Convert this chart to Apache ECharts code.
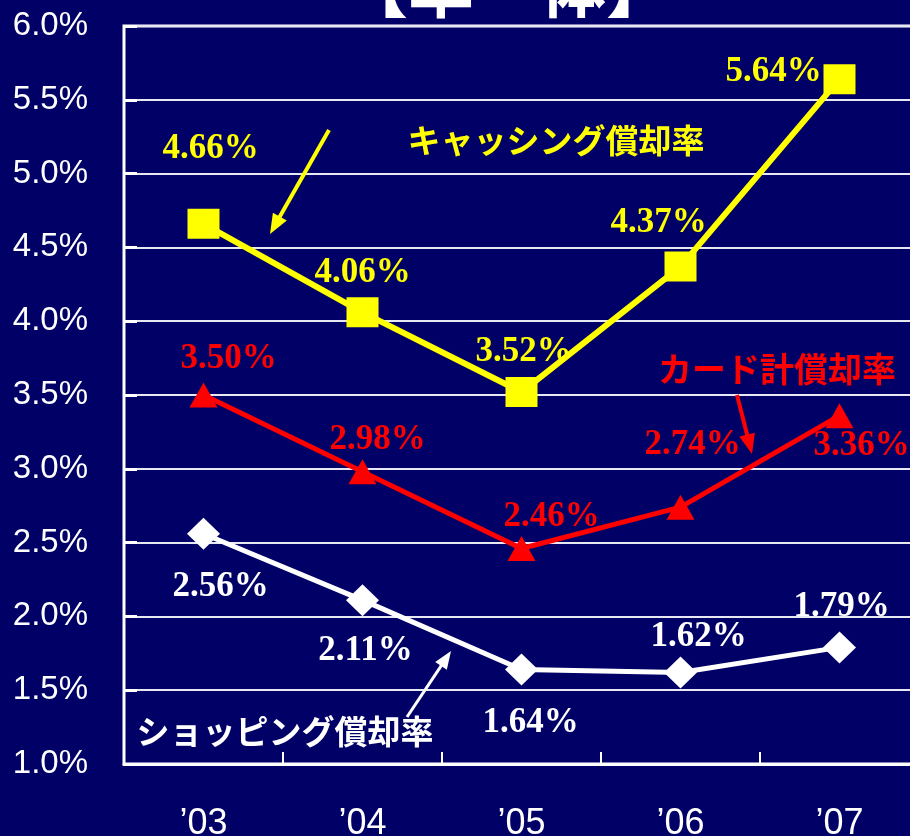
<!DOCTYPE html>
<html>
<head>
<meta charset="utf-8">
<script src="https://cdn.jsdelivr.net/npm/echarts@6/dist/echarts.min.js"></script>
<style>
  html, body { margin: 0; padding: 0; background: #000066; }
  #chart { width: 910px; height: 836px; }
</style>
</head>
<body>
<div id="chart"></div>
<script>
// Years on the horizontal axis
const categories = ['\u201903', '\u201904', '\u201905', '\u201906', '\u201907'];
// Write-off rates (%)
const cashingRate = [4.66, 4.06, 3.52, 4.37, 5.64];
const cardTotalRate = [3.50, 2.98, 2.46, 2.74, 3.36];
const shoppingRate = [2.56, 2.11, 1.64, 1.62, 1.79];
// Value axis range and step
const yMin = 1.0;
const yMax = 6.0;
const yStep = 0.5;

// Label placement relative to each point (px)
const cashingLabelOffsets = [[7, -75], [0, -39], [2, -40], [-22, -44], [-66, -7]];
const cardLabelOffsets = [[25, -36], [15, -32], [30, -32], [12, -62], [22, 30]];
const shoppingLabelOffsets = [[17, 53], [3, 51], [9, 53], [18, -36], [2, -40]];

const LABEL_FONT = '"Liberation Serif", "Times New Roman", serif';
const AXIS_FONT = '"Liberation Sans", Arial, sans-serif';
const JP_FONT = '"Noto Sans CJK JP", sans-serif';

function buildData(values, offsets, color) {
  return values.map((v, i) => ({
    value: v,
    label: {
      show: true,
      position: 'inside',
      offset: offsets[i],
      formatter: v.toFixed(2) + '%',
      color: color,
      fontFamily: LABEL_FONT,
      fontWeight: 'bold',
      fontSize: 35
    }
  }));
}

// Straight arrow with a filled triangular head
function arrow(x1, y1, x2, y2, color, width, headLen, headWidth) {
  const dx = x2 - x1, dy = y2 - y1;
  const len = Math.sqrt(dx * dx + dy * dy);
  const ux = dx / len, uy = dy / len;
  const bx = x2 - ux * headLen, by = y2 - uy * headLen;
  const px = -uy * headWidth / 2, py = ux * headWidth / 2;
  return [
    {
      type: 'line',
      shape: { x1: x1, y1: y1, x2: bx + ux * 2, y2: by + uy * 2 },
      style: { stroke: color, lineWidth: width },
      z: 10
    },
    {
      type: 'polygon',
      shape: { points: [[x2, y2], [bx + px, by + py], [bx - px, by - py]] },
      style: { fill: color },
      z: 10
    }
  ];
}

const chart = echarts.init(document.getElementById('chart'), null, { renderer: 'canvas' });

const option = {
  backgroundColor: '#000066',
  animation: false,
  grid: {
    left: 124,
    top: 26,
    width: 795,
    height: 738,
    outerBoundsMode: 'none',
    show: true,
    borderColor: '#ffffff',
    borderWidth: 3,
    backgroundColor: 'transparent'
  },
  xAxis: {
    type: 'category',
    data: categories,
    boundaryGap: true,
    axisLine: { lineStyle: { color: '#ffffff', width: 3 } },
    axisTick: { show: true, inside: true, length: 12, lineStyle: { color: '#ffffff', width: 2 } },
    axisLabel: {
      color: '#ffffff',
      fontFamily: AXIS_FONT,
      fontSize: 36,
      margin: 42
    },
    splitLine: { show: false }
  },
  yAxis: {
    type: 'value',
    min: yMin,
    max: yMax,
    interval: yStep,
    axisLine: { show: true, lineStyle: { color: '#ffffff', width: 2 } },
    axisTick: { show: true, inside: true, length: 13, lineStyle: { color: '#ffffff', width: 3 } },
    axisLabel: {
      color: '#ffffff',
      fontFamily: AXIS_FONT,
      fontSize: 33,
      margin: 36,
      formatter: v => v.toFixed(1) + '%'
    },
    splitLine: { show: true, lineStyle: { color: '#e8e8f4', width: 2 } }
  },
  series: [
    {
      name: 'ショッピング償却率',
      type: 'line',
      data: buildData(shoppingRate, shoppingLabelOffsets, '#ffffff'),
      symbol: 'diamond',
      symbolSize: [33, 32],
      lineStyle: { color: '#ffffff', width: 5 },
      itemStyle: { color: '#ffffff' },
      z: 3
    },
    {
      name: 'カード計償却率',
      type: 'line',
      data: buildData(cardTotalRate, cardLabelOffsets, '#ff0000'),
      symbol: 'triangle',
      symbolSize: [28, 25],
      lineStyle: { color: '#ff0000', width: 5 },
      itemStyle: { color: '#ff0000' },
      z: 4
    },
    {
      name: 'キャッシング償却率',
      type: 'line',
      data: buildData(cashingRate, cashingLabelOffsets, '#ffff00'),
      symbol: 'rect',
      symbolSize: [32, 30],
      lineStyle: { color: '#ffff00', width: 6 },
      itemStyle: { color: '#ffff00' },
      z: 5
    }
  ],
  graphic: [
    {
      type: 'text',
      left: 342,
      top: -46,
      style: {
        text: '【単　体】',
        fill: '#ffffff',
        font: 'bold 66px ' + JP_FONT
      },
      z: 20
    },
    {
      type: 'text',
      x: 556,
      y: 140,
      style: {
        text: 'キャッシング償却率',
        fill: '#ffff00',
        font: 'bold 33px ' + JP_FONT,
        align: 'center',
        verticalAlign: 'middle'
      },
      z: 20
    },
    {
      type: 'text',
      x: 777,
      y: 369,
      style: {
        text: 'カード計償却率',
        fill: '#ff0000',
        font: 'bold 34px ' + JP_FONT,
        align: 'center',
        verticalAlign: 'middle'
      },
      z: 20
    },
    {
      type: 'text',
      x: 285,
      y: 731,
      style: {
        text: 'ショッピング償却率',
        fill: '#ffffff',
        font: 'bold 33px ' + JP_FONT,
        align: 'center',
        verticalAlign: 'middle'
      },
      z: 20
    }
  ].concat(
    arrow(329, 130, 270, 234, '#ffff00', 4, 20, 16),
    arrow(737, 395, 752, 454, '#ff0000', 4, 20, 16),
    arrow(407, 717, 451, 651, '#ffffff', 3, 18, 14)
  )
};

chart.setOption(option);
</script>
</body>
</html>
